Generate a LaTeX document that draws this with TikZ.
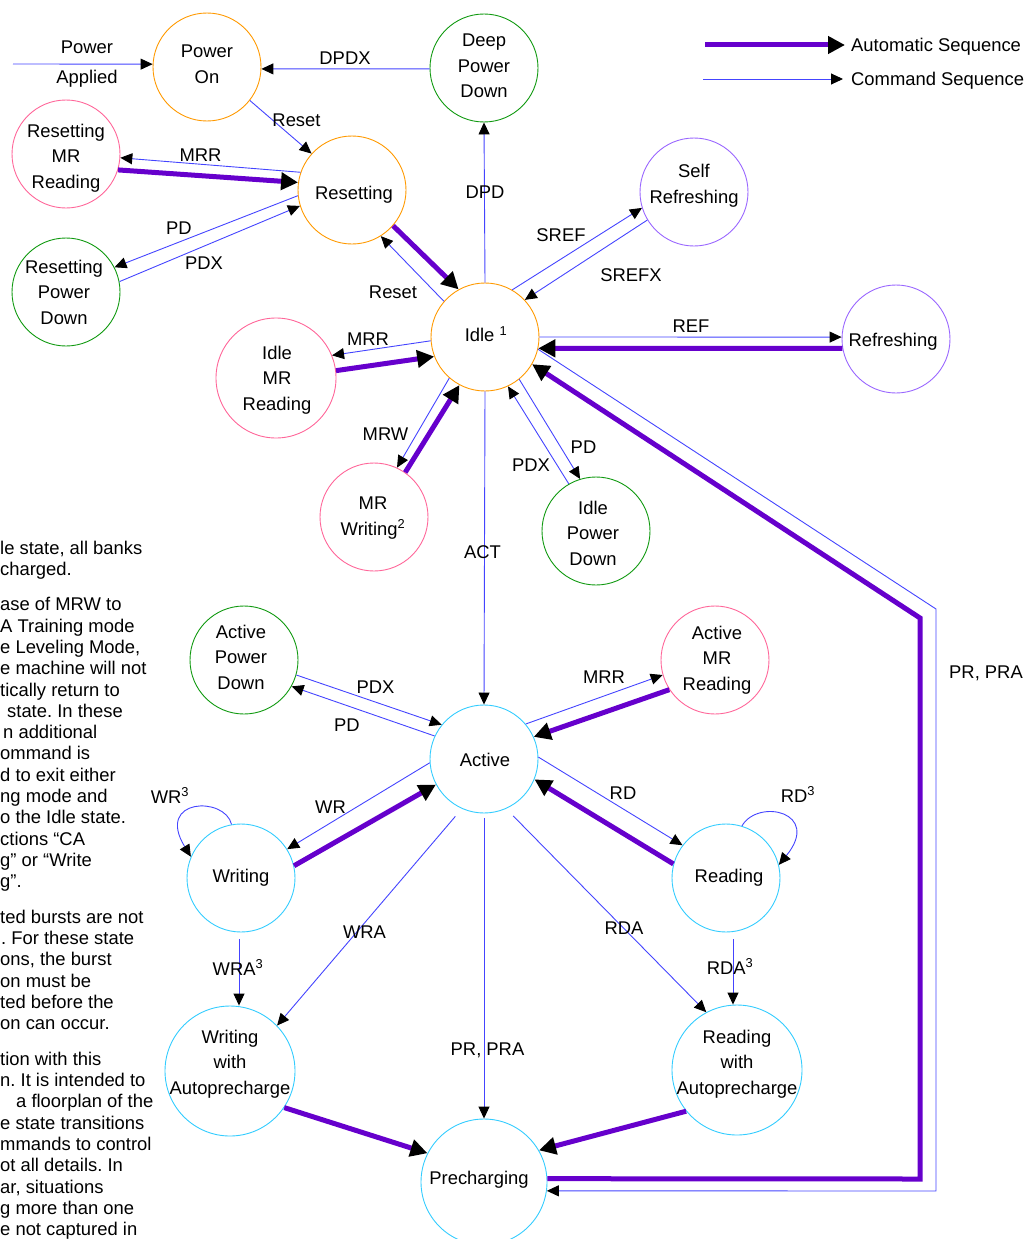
\documentclass[tikz,border=0pt]{standalone}
\usepackage{fontspec}
\setmainfont{Liberation Sans}
\usetikzlibrary{arrows.meta,calc}
\definecolor{cmdblue}{HTML}{4444FF}
\definecolor{autopurple}{HTML}{6600CC}
\definecolor{stOrange}{HTML}{FF9900}
\definecolor{stGreen}{HTML}{109910}
\definecolor{stPink}{HTML}{FF6699}
\definecolor{stViolet}{HTML}{9966FF}
\definecolor{stCyan}{HTML}{33CCFF}
\frenchspacing
\begin{document}
\frenchspacing
\begin{tikzpicture}[x=1pt,y=-1pt,
  every node/.style={font=\fontsize{18.4}{25.5}\selectfont, inner sep=0pt},
  st/.style={circle, draw=#1, line width=0.9pt, minimum size=108pt, inner sep=0pt},
  stxt/.style={align=center, text depth=0pt},
  cmdseq/.style={draw=cmdblue, line width=0.9pt, -{Triangle[length=12pt,width=11pt,black]}},
  autoseq/.style={draw=autopurple, line width=5pt, -{Triangle[length=17pt,width=17pt,black]}},
  lbl/.style={anchor=base},
  note/.style={anchor=base west, font=\fontsize{18.4}{21.3}\selectfont}
]
\useasboundingbox (0,0) rectangle (1028,1239);

% ---------- states ----------
\node[st=stOrange] (po) at (207,67) {};
\node[stxt] (poT) at (207,64) {Power\\On};
\node[st=stGreen] (dpd) at (484,68) {};
\node[stxt] (dpdT) at (484,66) {Deep\\Power\\Down};
\node[st=stOrange] (rst) at (352,190) {};
\node[stxt] (rstT) at (354,193) {Resetting};
\node[st=stPink] (rmr) at (66,154) {};
\node[stxt] (rmrT) at (66,156) {Resetting\\MR\\Reading};
\node[st=stGreen] (rpd) at (66,292) {};
\node[stxt] (rpdT) at (64,292) {Resetting\\Power\\Down};
\node[st=stViolet] (sr) at (694,192) {};
\node[stxt] (srT) at (694,184) {Self\\Refreshing};
\node[st=stOrange] (idle) at (485,337) {};
\node[stxt] (idleT) at (486,334) {Idle \textsuperscript{1}};
\node[st=stViolet] (refr) at (896,339) {};
\node[stxt] (refrT) at (893,340) {Refreshing};
\node[st=stPink, minimum size=120pt] (imr) at (276,378) {};
\node[stxt] (imrT) at (277,378) {Idle\\MR\\Reading};
\node[st=stPink] (mrw) at (374,517) {};
\node[stxt] (mrwT) at (373,516) {MR\\Writing\textsuperscript{2}};
\node[st=stGreen] (ipd) at (596,531) {};
\node[stxt] (ipdT) at (593,533) {Idle\\Power\\Down};
\node[st=stGreen] (apd) at (244,660) {};
\node[stxt] (apdT) at (241,657) {Active\\Power\\Down};
\node[st=stCyan] (act) at (484,759) {};
\node[stxt] (actT) at (485,760) {Active};
\node[st=stPink] (amr) at (715,660) {};
\node[stxt] (amrT) at (717,658) {Active\\MR\\Reading};
\node[st=stCyan] (wrt) at (241,878) {};
\node[stxt] (wrtT) at (241,876) {Writing};
\node[st=stCyan] (rdg) at (726,878) {};
\node[stxt] (rdgT) at (729,876) {Reading};
\node[st=stCyan, minimum size=130pt] (wap) at (230,1071) {};
\node[stxt] (wapT) at (230,1062) {Writing\\with\\Autoprecharge};
\node[st=stCyan, minimum size=126pt] (pre) at (484,1182) {};
\node[stxt] (preT) at (479,1178) {Precharging};
\node[st=stCyan, minimum size=130pt] (rap) at (737,1070) {};
\node[stxt] (rapT) at (737,1062) {Reading\\with\\Autoprecharge};

% ---------- connectors ----------
\coordinate (pa) at (13,64);
\draw[cmdseq] (pa) -- (po.177);
\draw[cmdseq] (dpd.181) -- (po.358);
\draw[cmdseq] (po.322) -- (rst.138);
\draw[cmdseq] (rst.161) -- (rmr.356);
\draw[autoseq] (rmr.343) -- (rst.172);
\draw[cmdseq] (rst.186) -- (rpd.27);
\draw[cmdseq] (rpd.11) -- (rst.197);
\draw[autoseq] (rst.319) -- (idle.119);
\draw[cmdseq] (idle.139) -- (rst.302);
\draw[cmdseq] (idle.90) -- (dpd.270);
\draw[cmdseq] (idle.60) -- (sr.197);
\draw[cmdseq] (sr.211) -- (idle.43);
\draw[cmdseq] (idle.0) -- (refr.178);
\draw[autoseq] (refr.190) -- (idle.348);
\draw[cmdseq] (idle.184) -- (imr.22);
\draw[autoseq] (imr.7) -- (idle.201);
\draw[cmdseq] (idle.229) -- (mrw.65);
\draw[autoseq] (mrw.55) -- (idle.242);
\draw[cmdseq] (idle.309) -- (ipd.107);
\draw[cmdseq] (ipd.120) -- (idle.295);
\draw[cmdseq] (idle.270) -- (act.90);

\coordinate (c1) at (936,609);
\coordinate (c2) at (936,1191);
\draw[cmdseq] (idle.347) -- (c1) -- (c2) -- (pre.352);
\coordinate (c3) at (920,1179);
\coordinate (c4) at (920,618);
\draw[autoseq] (pre.3) -- (c3) -- (c4) -- (idle.330);

\draw[cmdseq] (apd.344) -- (act.141);
\draw[cmdseq] (act.155) -- (apd.331);
\draw[cmdseq] (act.40) -- (amr.196);
\draw[autoseq] (amr.213) -- (act.24);
\draw[cmdseq] (act.184) -- (wrt.32);
\draw[autoseq] (wrt.13) -- (act.208);
\draw[cmdseq] (act.2) -- (rdg.143);
\draw[autoseq] (rdg.165) -- (act.338);
\draw[cmdseq] (wrt.100) .. controls (225,796) and (155,798) .. (wrt.157);
\draw[cmdseq] (rdg.73) .. controls (758,798) and (822,812) .. (rdg.14);
\draw[cmdseq, shorten <=10pt] (act.246) -- (wap.44);
\draw[cmdseq, shorten <=5pt] (act.270) -- (pre.90);
\draw[cmdseq, shorten <=10pt] (act.294) -- (rap.118);
\coordinate (w3s) at ($(wrt.south)+(-2,7)$);
\draw[cmdseq] (w3s) -- (w3s |- wap.north);
\coordinate (r3s) at ($(rdg.south)+(7,7)$);
\draw[cmdseq] (r3s) -- (r3s |- rap.north);
\draw[autoseq] (wap.326) -- (pre.153);
\draw[autoseq] (rap.219) -- (pre.30);

% ---------- legend ----------
\coordinate (la1) at (705,45);
\coordinate (la2) at (845,45);
\draw[autoseq] (la1) -- (la2);
\node[anchor=base west] (lt1) at (851,51.5) {Automatic Sequence};
\coordinate (lc1) at (703,79);
\coordinate (lc2) at (843,79);
\draw[cmdseq] (lc1) -- (lc2);
\node[anchor=base west] (lt2) at (851,85.5) {Command Sequence};

% ---------- connector labels ----------
\node[lbl] (l1) at (87,54) {Power};
\node[lbl] (l2) at (87,84) {Applied};
\node[lbl] (l3) at (345,65) {DPDX};
\node[lbl] (l4) at (296.5,126) {Reset};
\node[lbl] (l5) at (200.5,161) {MRR};
\node[lbl] (l6) at (179,234) {PD};
\node[lbl] (l7) at (204,269) {PDX};
\node[lbl] (l8) at (393,298) {Reset};
\node[lbl] (l9) at (485,198) {DPD};
\node[lbl] (l10) at (561,241) {SREF};
\node[lbl] (l11) at (631,281) {SREFX};
\node[lbl] (l12) at (691,332) {REF};
\node[lbl] (l13) at (368,345) {MRR};
\node[lbl] (l14) at (385.5,440) {MRW};
\node[lbl] (l15) at (583.5,453) {PD};
\node[lbl] (l16) at (531,471) {PDX};
\node[lbl] (l17) at (482.5,558) {ACT};
\node[lbl] (l18) at (986,678) {PR, PRA};
\node[lbl] (l19) at (375.5,693) {PDX};
\node[lbl] (l20) at (347,731) {PD};
\node[lbl] (l21) at (604,683) {MRR};
\node[lbl] (l22) at (330.5,813) {WR};
\node[lbl] (l23) at (623,799) {RD};
\node[lbl] (l24) at (170,803) {WR\textsuperscript{3}};
\node[lbl] (l25) at (798,802) {RD\textsuperscript{3}};
\node[lbl] (l26) at (364.5,938) {WRA};
\node[lbl] (l27) at (624,934) {RDA};
\node[lbl] (l28) at (238,975) {WRA\textsuperscript{3}};
\node[lbl] (l29) at (730,974) {RDA\textsuperscript{3}};
\node[lbl] (l30) at (487.5,1055) {PR, PRA};

% ---------- cropped notes at left ----------
\node[note] (n1) at (0,554) {le state, all banks};
\node[note] (n2) at (0,575.3) {charged.};
\node[note] (n3) at (0,610.8) {ase of MRW to};
\node[note] (n4) at (0,632.1) {A Training mode};
\node[note] (n5) at (0,653.4) {e Leveling Mode,};
\node[note] (n6) at (0,674.7) {e machine will not};
\node[note] (n7) at (0,696) {tically return to};
\node[note] (n8) at (7,717.3) {state. In these};
\node[note] (n9) at (3,738.6) {n additional};
\node[note] (n10) at (0,759.9) {ommand is};
\node[note] (n11) at (0,781.2) {d to exit either};
\node[note] (n12) at (0,802.5) {ng mode and};
\node[note] (n13) at (0,823.8) {o the Idle state.};
\node[note] (n14) at (0,845.1) {ctions “CA};
\node[note] (n15) at (0,866.4) {g” or “Write};
\node[note] (n16) at (0,887.7) {g”.};
\node[note] (n17) at (0,923.2) {ted bursts are not};
\node[note] (n18) at (1,944.5) {. For these state};
\node[note] (n19) at (0,965.8) {ons, the burst};
\node[note] (n20) at (0,987.1) {on must be};
\node[note] (n21) at (0,1008.4) {ted before the};
\node[note] (n22) at (0,1029.7) {on can occur.};
\node[note] (n23) at (0,1065.2) {tion with this};
\node[note] (n24) at (0,1086.5) {n. It is intended to};
\node[note] (n25) at (16,1107.8) {a floorplan of the};
\node[note] (n26) at (0,1129.1) {e state transitions};
\node[note] (n27) at (0,1150.4) {mmands to control};
\node[note] (n28) at (0,1171.7) {ot all details. In};
\node[note] (n29) at (0,1193) {ar, situations};
\node[note] (n30) at (0,1214.3) {g more than one};
\node[note] (n31) at (0,1235.6) {e not captured in};
\end{tikzpicture}
\end{document}
